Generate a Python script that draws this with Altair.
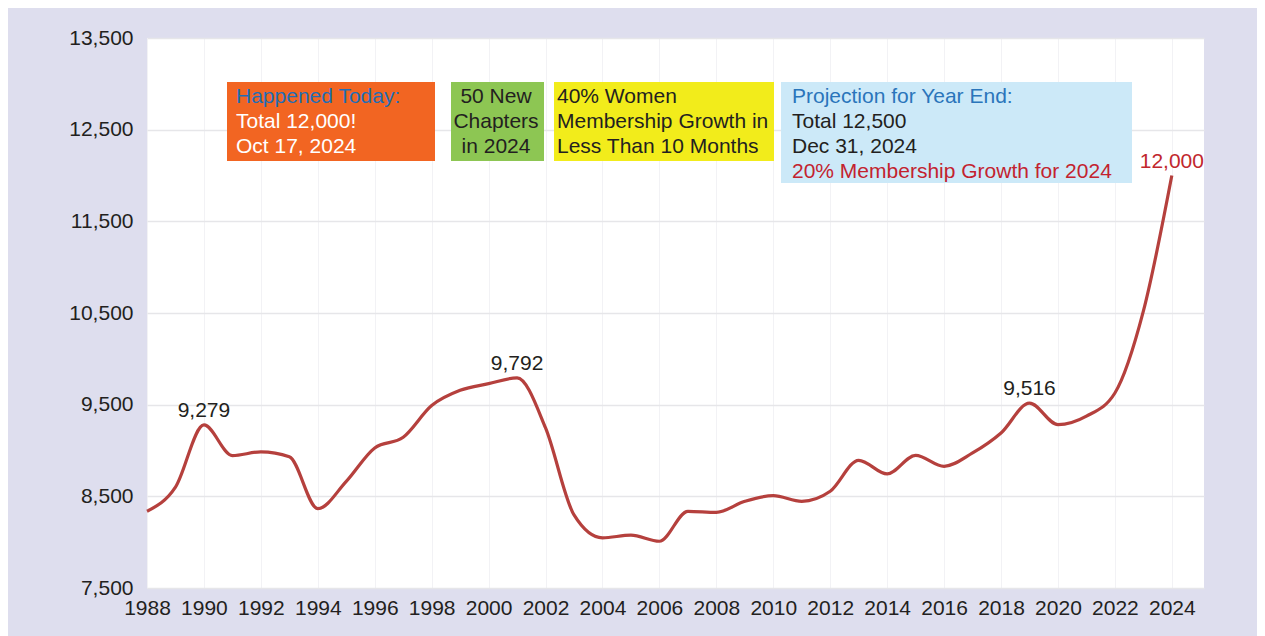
import altair as alt
import pandas as pd

# ---- data -------------------------------------------------------------
years = list(range(1988, 2025))
members = [8337, 8600, 9279, 8945, 8985, 8932, 8366, 8664, 9028, 9144,
           9490, 9656, 9729, 9792, 9246, 8297, 8047, 8076, 8010, 8337,
           8326, 8446, 8508, 8446, 8555, 8893, 8744, 8947, 8827, 8973,
           9191, 9516, 9282, 9375, 9627, 10520, 12000]

label_years = [1990, 2001, 2019, 2024]
label_colors = ["#231f20", "#231f20", "#231f20", "#c1272d"]

y_ticks = [7500, 8500, 9500, 10500, 11500, 12500, 13500]
x_ticks = list(range(1988, 2026))

happened_lines = ["Happened Today:", "Total 12,000!", "Oct 17, 2024"]
chapters_lines = ["50 New", "Chapters", "in 2024"]
women_lines = ["40% Women", "Membership Growth in", "Less Than 10 Months"]
projection_lines = ["Projection for Year End:", "Total 12,500", "Dec 31, 2024",
                    "20% Membership Growth for 2024"]

# ---- styling ----------------------------------------------------------
FONT = "Liberation Sans"
DARK = "#231f20"
LINE_COLOR = "#b5403d"

df = pd.DataFrame({"year": years, "members": members})
lookup = dict(zip(years, members))
labels = pd.DataFrame({
    "year": label_years,
    "members": [lookup[y] for y in label_years],
    "color": label_colors,
})

x_enc = alt.X(
    "year:Q",
    scale=alt.Scale(domain=[1988, 2025.13], nice=False, zero=False),
    axis=alt.Axis(
        values=x_ticks, format="d",
        labelExpr="(datum.value % 2 == 0 && datum.value < 2025) ? datum.label : ''",
        title=None, ticks=False, domain=False, labelFlush=False, labelOverlap=False,
        labelFontSize=21, labelColor=DARK, labelFont=FONT, labelPadding=9,
        grid=True, gridColor="#f2f2f5", gridWidth=1,
    ),
)
y_enc = alt.Y(
    "members:Q",
    scale=alt.Scale(domain=[7500, 13500], nice=False, zero=False),
    axis=alt.Axis(
        values=y_ticks, format=",.0f", title=None, ticks=False, domain=False,
        labelFontSize=21, labelColor=DARK, labelFont=FONT, labelPadding=14,
        grid=True, gridColor="#e6e6e9", gridWidth=1.5,
    ),
)

line = alt.Chart(df).mark_line(
    interpolate="monotone", color=LINE_COLOR, strokeWidth=3.2
).encode(x=x_enc, y=y_enc)

value_labels = alt.Chart(labels).mark_text(
    font=FONT, fontSize=21, baseline="alphabetic", align="center", dy=-8
).encode(
    x=alt.X("year:Q"),
    y=alt.Y("members:Q"),
    text=alt.Text("members:Q", format=",.0f"),
    color=alt.Color("color:N", scale=None),
)

layers = [line, value_labels]


def box(x0, x1, y0, y1, fill):
    return alt.Chart(pd.DataFrame({"k": [0]})).mark_rect(color=fill).encode(
        x=alt.value(x0), x2=alt.value(x1), y=alt.value(y0), y2=alt.value(y1)
    )


def text_lines(lines, colors, x, align, y0=65, step=25):
    out = []
    for i, (t, c) in enumerate(zip(lines, colors)):
        out.append(
            alt.Chart(pd.DataFrame({"t": [t]})).mark_text(
                font=FONT, fontSize=21, align=align, baseline="alphabetic", color=c
            ).encode(x=alt.value(x), y=alt.value(y0 + i * step), text="t:N")
        )
    return out


layers.append(box(80, 288, 44, 123, "#f26522"))
layers += text_lines(happened_lines, ["#1f6db5", "white", "white"], 89, "left")

layers.append(box(304, 397, 44, 123, "#8dc653"))
layers += text_lines(chapters_lines, [DARK, DARK, DARK], 349, "center")

layers.append(box(407, 627, 44, 123, "#f2ec1b"))
layers += text_lines(women_lines, [DARK, DARK, DARK], 410, "left")

layers.append(box(634, 985, 44, 145, "#cce9f8"))
layers += text_lines(projection_lines, ["#2a75bb", DARK, DARK, "#c3232f"], 645, "left")

chart = alt.layer(*layers).properties(
    width=1057,
    height=550,
    autosize=alt.AutoSizeParams(type="none"),
    padding={"left": 139, "top": 30, "right": 53, "bottom": 48},
    background="#dedeee",
).configure_view(fill="white", stroke=None)

chart.save("out.html", embed_options={"renderer": "svg", "actions": False})
